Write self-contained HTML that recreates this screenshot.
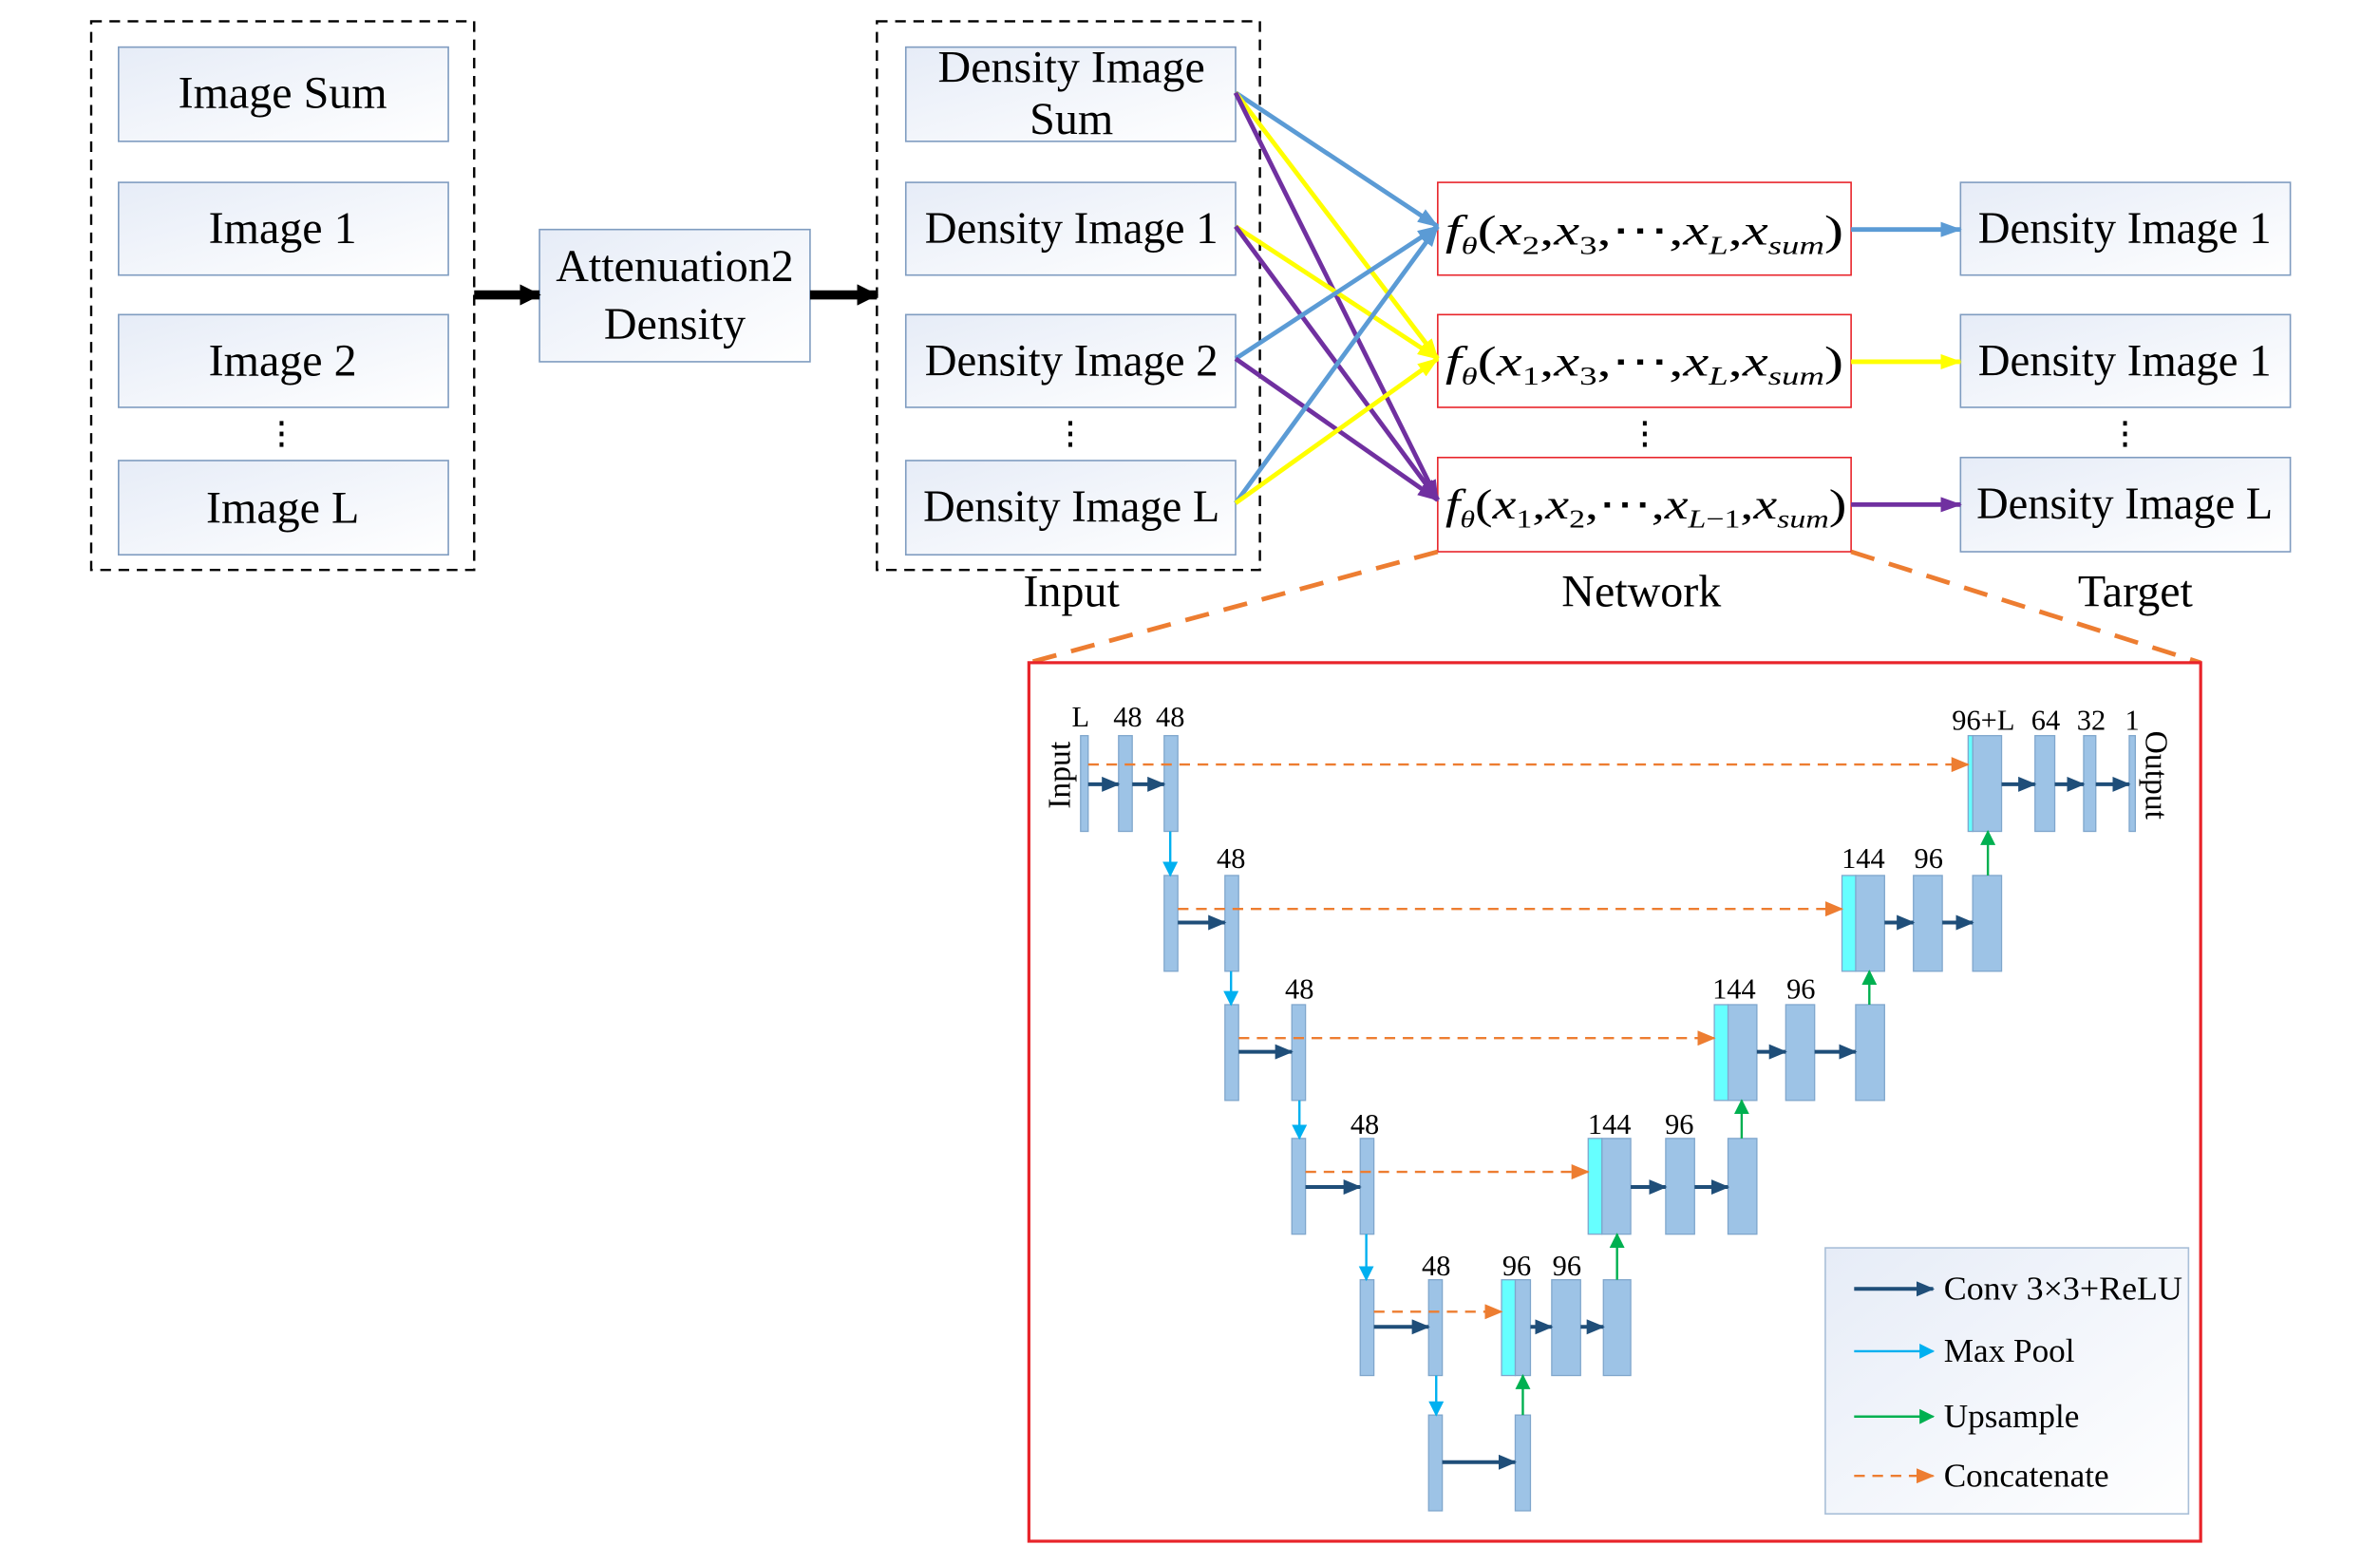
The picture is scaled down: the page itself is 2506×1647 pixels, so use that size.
<!DOCTYPE html>
<html><head><meta charset="utf-8"><style>
html,body{margin:0;padding:0;background:#fff;}
svg{display:block;}
text{font-family:"Liberation Serif",serif;fill:#000;}
</style></head><body>
<svg width="2506" height="1647" viewBox="0 0 1566 1029" preserveAspectRatio="none" xmlns="http://www.w3.org/2000/svg">
<defs>
<linearGradient id="g" x1="0" y1="0" x2="1" y2="1"><stop offset="0" stop-color="#e6ecf7"/><stop offset="1" stop-color="#ffffff"/></linearGradient>
<marker id="mb" markerUnits="userSpaceOnUse" markerWidth="14" markerHeight="10" refX="13" refY="5" orient="auto"><path d="M0,0 L14,5 L0,10 Z" fill="#5b9bd5"/></marker>
<marker id="my" markerUnits="userSpaceOnUse" markerWidth="14" markerHeight="10" refX="13" refY="5" orient="auto"><path d="M0,0 L14,5 L0,10 Z" fill="#ffff00"/></marker>
<marker id="mp" markerUnits="userSpaceOnUse" markerWidth="14" markerHeight="10" refX="13" refY="5" orient="auto"><path d="M0,0 L14,5 L0,10 Z" fill="#7030a0"/></marker>
<marker id="mk" markerUnits="userSpaceOnUse" markerWidth="14" markerHeight="14" refX="13" refY="7" orient="auto"><path d="M0,0 L14,7 L0,14 Z" fill="#000"/></marker>
<marker id="mc" markerUnits="userSpaceOnUse" markerWidth="12" markerHeight="10" refX="11" refY="5" orient="auto"><path d="M0,0 L12,5 L0,10 Z" fill="#1f4e79"/></marker>
<marker id="mm" markerUnits="userSpaceOnUse" markerWidth="10" markerHeight="10" refX="9" refY="5" orient="auto"><path d="M0,0 L10,5 L0,10 Z" fill="#00b0f0"/></marker>
<marker id="mu" markerUnits="userSpaceOnUse" markerWidth="10" markerHeight="10" refX="9" refY="5" orient="auto"><path d="M0,0 L10,5 L0,10 Z" fill="#00b050"/></marker>
<marker id="mo" markerUnits="userSpaceOnUse" markerWidth="12" markerHeight="10" refX="11" refY="5" orient="auto"><path d="M0,0 L12,5 L0,10 Z" fill="#ed7d31"/></marker>
</defs>

<rect x="60" y="14" width="252" height="361" fill="none" stroke="#000" stroke-width="1.5" stroke-dasharray="7,5"/>
<g fill="url(#g)" stroke="#7f9cc0" stroke-width="1">
<rect x="78" y="31" width="217" height="62"/><rect x="78" y="120" width="217" height="61"/>
<rect x="78" y="207" width="217" height="61"/><rect x="78" y="303" width="217" height="62"/>
<rect x="355" y="151" width="178" height="87"/>
<rect x="596" y="31" width="217" height="62"/><rect x="596" y="120" width="217" height="61"/>
<rect x="596" y="207" width="217" height="61"/><rect x="596" y="303" width="217" height="62"/>
<rect x="1290" y="120" width="217" height="61"/><rect x="1290" y="207" width="217" height="61"/>
<rect x="1290" y="301" width="217" height="62"/>
</g>
<g font-size="30" text-anchor="middle">
<text x="186" y="71">Image Sum</text><text x="186" y="160">Image 1</text>
<text x="186" y="247">Image 2</text><text x="186" y="344">Image L</text>
<text x="444" y="185">Attenuation2</text><text x="444" y="223">Density</text>
<text x="705" y="54">Density Image</text><text x="705" y="88">Sum</text>
<text x="705" y="160" textLength="193" lengthAdjust="spacingAndGlyphs">Density Image 1</text><text x="705" y="247" textLength="193" lengthAdjust="spacingAndGlyphs">Density Image 2</text>
<text x="705" y="343" textLength="195" lengthAdjust="spacingAndGlyphs">Density Image L</text>
<text x="1398" y="160" textLength="193" lengthAdjust="spacingAndGlyphs">Density Image 1</text><text x="1398" y="247" textLength="193" lengthAdjust="spacingAndGlyphs">Density Image 1</text>
<text x="1398" y="341" textLength="195" lengthAdjust="spacingAndGlyphs">Density Image L</text>
<text x="705" y="399">Input</text><text x="1080" y="399">Network</text><text x="1405" y="399">Target</text>
</g>
<g fill="#000">
<rect x="184" y="277" width="2.5" height="3"/><rect x="184" y="284" width="2.5" height="3"/><rect x="184" y="291" width="2.5" height="3"/>
<rect x="703" y="277" width="2.5" height="3"/><rect x="703" y="284" width="2.5" height="3"/><rect x="703" y="291" width="2.5" height="3"/>
<rect x="1081" y="277" width="2.5" height="3"/><rect x="1081" y="284" width="2.5" height="3"/><rect x="1081" y="291" width="2.5" height="3"/>
<rect x="1397" y="277" width="2.5" height="3"/><rect x="1397" y="284" width="2.5" height="3"/><rect x="1397" y="291" width="2.5" height="3"/>
</g>
<line x1="312" y1="194" x2="355" y2="194" stroke="#000" stroke-width="6" marker-end="url(#mk)"/>
<line x1="533" y1="194" x2="577" y2="194" stroke="#000" stroke-width="6" marker-end="url(#mk)"/>
<rect x="577" y="14" width="252" height="361" fill="none" stroke="#000" stroke-width="1.5" stroke-dasharray="7,5"/>

<g fill="#fff" stroke="#e8242a" stroke-width="1">
<rect x="946" y="120" width="272" height="61"/><rect x="946" y="207" width="272" height="61"/><rect x="946" y="301" width="272" height="62"/>
</g>
<g font-size="28" font-style="italic">
<text x="951" y="161" textLength="262" lengthAdjust="spacingAndGlyphs">f<tspan font-size="16" dy="6">θ</tspan><tspan font-style="normal" dy="-6">(</tspan>x<tspan font-size="17" dy="6" font-style="normal">2</tspan><tspan dy="-6" font-style="normal">,</tspan>x<tspan font-size="17" dy="6" font-style="normal">3</tspan><tspan dy="-6" font-style="normal">,⋯,</tspan>x<tspan font-size="17" dy="6">L</tspan><tspan dy="-6" font-style="normal">,</tspan>x<tspan font-size="17" dy="6">sum</tspan><tspan dy="-6" font-style="normal">)</tspan></text>
<text x="951" y="247" textLength="262" lengthAdjust="spacingAndGlyphs">f<tspan font-size="16" dy="6">θ</tspan><tspan font-style="normal" dy="-6">(</tspan>x<tspan font-size="17" dy="6" font-style="normal">1</tspan><tspan dy="-6" font-style="normal">,</tspan>x<tspan font-size="17" dy="6" font-style="normal">3</tspan><tspan dy="-6" font-style="normal">,⋯,</tspan>x<tspan font-size="17" dy="6">L</tspan><tspan dy="-6" font-style="normal">,</tspan>x<tspan font-size="17" dy="6">sum</tspan><tspan dy="-6" font-style="normal">)</tspan></text>
<text x="951" y="341" textLength="264" lengthAdjust="spacingAndGlyphs">f<tspan font-size="16" dy="6">θ</tspan><tspan font-style="normal" dy="-6">(</tspan>x<tspan font-size="17" dy="6" font-style="normal">1</tspan><tspan dy="-6" font-style="normal">,</tspan>x<tspan font-size="17" dy="6" font-style="normal">2</tspan><tspan dy="-6" font-style="normal">,⋯,</tspan>x<tspan font-size="17" dy="6">L</tspan><tspan font-size="17" font-style="normal">−1</tspan><tspan dy="-6" font-style="normal">,</tspan>x<tspan font-size="17" dy="6">sum</tspan><tspan dy="-6" font-style="normal">)</tspan></text>
</g>

<g stroke-width="3" fill="none">
<line x1="813" y1="61" x2="946" y2="149" stroke="#5b9bd5" marker-end="url(#mb)"/>
<line x1="813" y1="61" x2="946" y2="236" stroke="#ffff00" marker-end="url(#my)"/>
<line x1="813" y1="61" x2="946" y2="329" stroke="#7030a0" marker-end="url(#mp)"/>
<line x1="813" y1="149" x2="946" y2="236" stroke="#ffff00" marker-end="url(#my)"/>
<line x1="813" y1="149" x2="946" y2="329" stroke="#7030a0" marker-end="url(#mp)"/>
<line x1="813" y1="236" x2="946" y2="149" stroke="#5b9bd5" marker-end="url(#mb)"/>
<line x1="813" y1="236" x2="946" y2="329" stroke="#7030a0" marker-end="url(#mp)"/>
<line x1="813" y1="331" x2="946" y2="149" stroke="#5b9bd5" marker-end="url(#mb)"/>
<line x1="813" y1="331" x2="946" y2="236" stroke="#ffff00" marker-end="url(#my)"/>
<line x1="1218" y1="151" x2="1290" y2="151" stroke="#5b9bd5" marker-end="url(#mb)"/>
<line x1="1218" y1="238" x2="1290" y2="238" stroke="#ffff00" marker-end="url(#my)"/>
<line x1="1218" y1="332" x2="1290" y2="332" stroke="#7030a0" marker-end="url(#mp)"/>
</g>

<g stroke="#ed7d31" stroke-width="3" stroke-dasharray="16,10">
<line x1="946" y1="363" x2="677" y2="436"/><line x1="1218" y1="363" x2="1448" y2="436"/>
</g>
<rect x="677" y="436" width="771" height="578" fill="#fff" stroke="#e8242a" stroke-width="2"/>

<g fill="#9dc3e6" stroke="#7fa6cc" stroke-width="0.8">
<rect x="711" y="484" width="5" height="63"/><rect x="736" y="484" width="9" height="63"/><rect x="766" y="484" width="9" height="63"/>
<rect x="1298" y="484" width="19" height="63"/><rect x="1339" y="484" width="13" height="63"/><rect x="1371" y="484" width="8" height="63"/><rect x="1401" y="484" width="4" height="63"/>
<rect x="766" y="576" width="9" height="63"/><rect x="806" y="576" width="9" height="63"/>
<rect x="1221" y="576" width="19" height="63"/><rect x="1259" y="576" width="19" height="63"/><rect x="1298" y="576" width="19" height="63"/>
<rect x="806" y="661" width="9" height="63"/><rect x="850" y="661" width="9" height="63"/>
<rect x="1137" y="661" width="19" height="63"/><rect x="1175" y="661" width="19" height="63"/><rect x="1221" y="661" width="19" height="63"/>
<rect x="850" y="749" width="9" height="63"/><rect x="895" y="749" width="9" height="63"/>
<rect x="1054" y="749" width="19" height="63"/><rect x="1096" y="749" width="19" height="63"/><rect x="1137" y="749" width="19" height="63"/>
<rect x="895" y="842" width="9" height="63"/><rect x="940" y="842" width="9" height="63"/>
<rect x="997" y="842" width="10" height="63"/><rect x="1021" y="842" width="19" height="63"/><rect x="1055" y="842" width="18" height="63"/>
<rect x="940" y="931" width="9" height="63"/><rect x="997" y="931" width="10" height="63"/>
</g>
<g fill="#66ffff" stroke="#7fa6cc" stroke-width="0.8">
<rect x="1295" y="484" width="3" height="63"/><rect x="1212" y="576" width="9" height="63"/><rect x="1128" y="661" width="9" height="63"/>
<rect x="1045" y="749" width="9" height="63"/><rect x="988" y="842" width="9" height="63"/>
</g>
<g stroke="#1f4e79" stroke-width="2.5" marker-end="url(#mc)">
<line x1="716" y1="516" x2="736" y2="516"/><line x1="745" y1="516" x2="766" y2="516"/>
<line x1="1317" y1="516" x2="1339" y2="516"/><line x1="1352" y1="516" x2="1371" y2="516"/><line x1="1379" y1="516" x2="1401" y2="516"/>
<line x1="775" y1="607" x2="806" y2="607"/><line x1="1240" y1="607" x2="1259" y2="607"/><line x1="1278" y1="607" x2="1298" y2="607"/>
<line x1="815" y1="692" x2="850" y2="692"/><line x1="1156" y1="692" x2="1175" y2="692"/><line x1="1194" y1="692" x2="1221" y2="692"/>
<line x1="859" y1="781" x2="895" y2="781"/><line x1="1073" y1="781" x2="1096" y2="781"/><line x1="1115" y1="781" x2="1137" y2="781"/>
<line x1="904" y1="873" x2="940" y2="873"/><line x1="1007" y1="873" x2="1021" y2="873"/><line x1="1040" y1="873" x2="1055" y2="873"/>
<line x1="949" y1="962" x2="997" y2="962"/>
</g>
<g stroke="#00b0f0" stroke-width="1.5" marker-end="url(#mm)">
<line x1="770" y1="547" x2="770" y2="576"/><line x1="810" y1="639" x2="810" y2="661"/><line x1="855" y1="724" x2="855" y2="749"/>
<line x1="899" y1="812" x2="899" y2="842"/><line x1="945" y1="905" x2="945" y2="931"/>
</g>
<g stroke="#00b050" stroke-width="1.5" marker-end="url(#mu)">
<line x1="1308" y1="576" x2="1308" y2="547"/><line x1="1230" y1="661" x2="1230" y2="639"/><line x1="1146" y1="749" x2="1146" y2="724"/>
<line x1="1064" y1="842" x2="1064" y2="812"/><line x1="1002" y1="931" x2="1002" y2="905"/>
</g>
<g stroke="#ed7d31" stroke-width="1.5" stroke-dasharray="7,5" marker-end="url(#mo)">
<line x1="716" y1="503" x2="1295" y2="503"/><line x1="775" y1="598" x2="1212" y2="598"/>
<line x1="815" y1="683" x2="1128" y2="683"/><line x1="859" y1="771" x2="1045" y2="771"/><line x1="904" y1="863" x2="988" y2="863"/>
</g>
<g font-size="19" text-anchor="middle">
<text x="711" y="478">L</text><text x="742" y="478">48</text><text x="770" y="478">48</text>
<text x="1305" y="480">96+L</text><text x="1346" y="480">64</text><text x="1376" y="480">32</text><text x="1403" y="480">1</text>
<text x="810" y="571">48</text><text x="1226" y="571">144</text><text x="1269" y="571">96</text>
<text x="855" y="657">48</text><text x="1141" y="657">144</text><text x="1185" y="657">96</text>
<text x="898" y="746">48</text><text x="1059" y="746">144</text><text x="1105" y="746">96</text>
<text x="945" y="839">48</text><text x="998" y="839">96</text><text x="1031" y="839">96</text>
<text font-size="21" transform="translate(704,510) rotate(-90)">Input</text>
<text font-size="21" transform="translate(1412,510) rotate(90)">Output</text>
</g>

<rect x="1201" y="821" width="239" height="175" fill="url(#g)" stroke="#a9bfd8" stroke-width="1"/>
<line x1="1220" y1="848" x2="1272" y2="848" stroke="#1f4e79" stroke-width="2.5" marker-end="url(#mc)"/>
<line x1="1220" y1="889" x2="1272" y2="889" stroke="#00b0f0" stroke-width="1.5" marker-end="url(#mm)"/>
<line x1="1220" y1="932" x2="1272" y2="932" stroke="#00b050" stroke-width="1.5" marker-end="url(#mu)"/>
<line x1="1220" y1="971" x2="1272" y2="971" stroke="#ed7d31" stroke-width="1.5" stroke-dasharray="7,5" marker-end="url(#mo)"/>
<g font-size="22">
<text x="1279" y="855" textLength="157" lengthAdjust="spacingAndGlyphs">Conv 3×3+ReLU</text><text x="1279" y="896">Max Pool</text>
<text x="1279" y="939">Upsample</text><text x="1279" y="978">Concatenate</text>
</g>
</svg>
</body></html>
